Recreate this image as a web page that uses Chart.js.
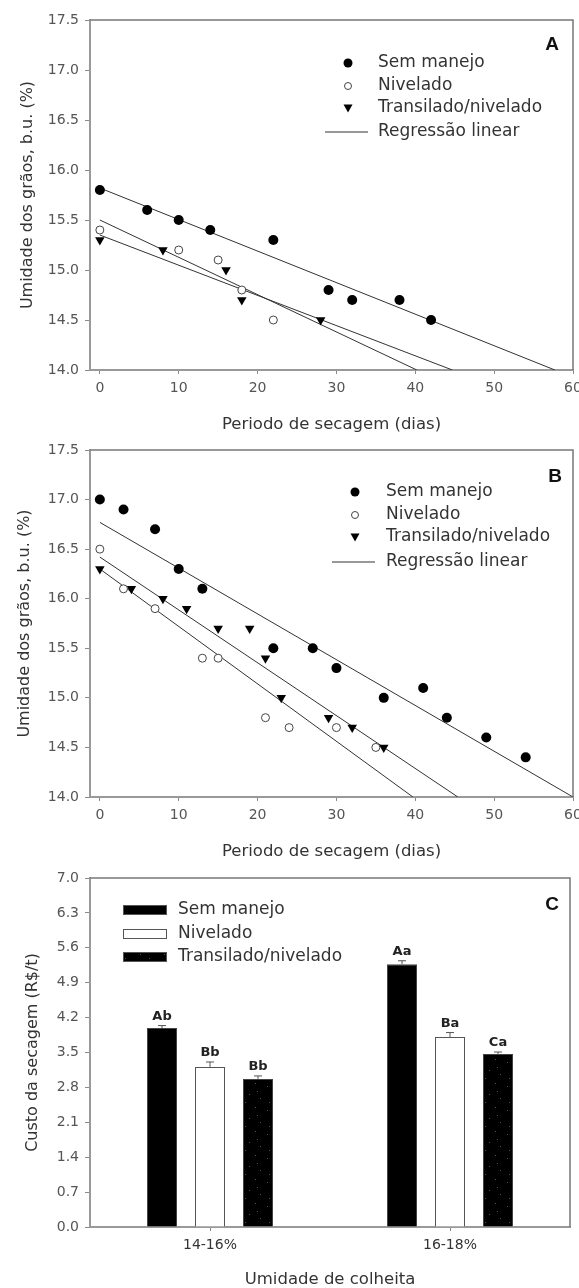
<!DOCTYPE html>
<html>
<head>
<meta charset="utf-8">
<script src="https://cdn.jsdelivr.net/npm/chart.js@4"></script>
<style>
  body { margin: 0; background: #fff; }
  canvas { display: block; }
</style>
</head>
<body>
<canvas id="chartA" width="579" height="440"></canvas>
<canvas id="chartB" width="579" height="425"></canvas>
<canvas id="chartC" width="579" height="423"></canvas>
<script>
// ---- dados painel A ----
const diasA_sem = [0, 6, 10, 14, 22, 29, 32, 38, 42];
const umidA_sem = [15.8, 15.6, 15.5, 15.4, 15.3, 14.8, 14.7, 14.7, 14.5];
const diasA_niv = [0, 10, 15, 18, 22];
const umidA_niv = [15.4, 15.2, 15.1, 14.8, 14.5];
const diasA_tra = [0, 8, 16, 18, 28];
const umidA_tra = [15.3, 15.2, 15.0, 14.7, 14.5];
// retas de regressão (extremos)
const regA_sem_x = [0, 57.7], regA_sem_y = [15.82, 14.0];
const regA_niv_x = [0, 40.2], regA_niv_y = [15.5, 14.0];
const regA_tra_x = [0, 44.7], regA_tra_y = [15.35, 14.0];

// ---- dados painel B ----
const diasB_sem = [0, 3, 7, 10, 13, 22, 27, 30, 36, 41, 44, 49, 54];
const umidB_sem = [17.0, 16.9, 16.7, 16.3, 16.1, 15.5, 15.5, 15.3, 15.0, 15.1, 14.8, 14.6, 14.4];
const diasB_niv = [0, 3, 7, 13, 15, 21, 24, 30, 35];
const umidB_niv = [16.5, 16.1, 15.9, 15.4, 15.4, 14.8, 14.7, 14.7, 14.5];
const diasB_tra = [0, 4, 8, 11, 15, 19, 21, 23, 29, 32, 36];
const umidB_tra = [16.3, 16.1, 16.0, 15.9, 15.7, 15.7, 15.4, 15.0, 14.8, 14.7, 14.5];
const regB_sem_x = [0, 60], regB_sem_y = [16.77, 14.0];
const regB_niv_x = [0, 39.7], regB_niv_y = [16.3, 14.0];
const regB_tra_x = [0, 45.4], regB_tra_y = [16.42, 14.0];

// ---- dados painel C ----
const classesUmid = ['14-16%', '16-18%'];
const custoSem = [3.99, 5.27];
const custoNiv = [3.21, 3.81];
const custoTra = [2.97, 3.47];
const erroSem = [0.05, 0.07];
const erroNiv = [0.1, 0.09];
const erroTra = [0.06, 0.04];
const letrasSem = ['Ab', 'Aa'];
const letrasNiv = ['Bb', 'Ba'];
const letrasTra = ['Bb', 'Ca'];
const ticksC = [0, 0.7, 1.4, 2.1, 2.8, 3.5, 4.2, 4.9, 5.6, 6.3, 7.0];

const nomes = ['Sem manejo', 'Nivelado', 'Transilado/nivelado', 'Regressão linear'];

Chart.defaults.font.family = '"DejaVu Sans", "Liberation Sans", Arial, sans-serif';
Chart.defaults.color = '#555';

const pts = (xs, ys) => xs.map((x, i) => ({ x: x, y: ys[i] }));

// marcadores desenhados à mão para as legendas
function marker(ctx, tipo, x, y) {
    ctx.save();
    ctx.beginPath();
    if (tipo === 'cheio') {
        ctx.arc(x, y, 4.5, 0, Math.PI * 2);
        ctx.fillStyle = '#000'; ctx.fill();
    } else if (tipo === 'aberto') {
        ctx.arc(x, y, 3.5, 0, Math.PI * 2);
        ctx.fillStyle = '#fff'; ctx.fill();
        ctx.strokeStyle = '#444'; ctx.lineWidth = 1; ctx.stroke();
    } else {
        ctx.moveTo(x - 4.5, y - 3.5); ctx.lineTo(x + 4.5, y - 3.5); ctx.lineTo(x, y + 4.5);
        ctx.closePath(); ctx.fillStyle = '#000'; ctx.fill();
    }
    ctx.restore();
}

function framePlugin(letra, lx, ly) {
    return {
        id: 'frame' + letra,
        afterDraw(chart) {
            const { ctx, chartArea: a } = chart;
            ctx.save();
            ctx.strokeStyle = '#777';
            ctx.lineWidth = 1.5;
            ctx.beginPath();
            ctx.moveTo(a.left, a.top); ctx.lineTo(a.right, a.top); ctx.lineTo(a.right, a.bottom);
            ctx.stroke();
            ctx.fillStyle = '#111';
            ctx.font = 'bold 19px "Liberation Sans", Arial, sans-serif';
            ctx.textAlign = 'center';
            ctx.textBaseline = 'middle';
            ctx.fillText(letra, lx, ly);
            ctx.restore();
        }
    };
}

function legendaDispersao(id, mx, tx, linhas, l0, l1) {
    return {
        id: id,
        afterDraw(chart) {
            const ctx = chart.ctx;
            ctx.save();
            ctx.font = '17px "DejaVu Sans", sans-serif';
            ctx.fillStyle = '#333';
            ctx.textBaseline = 'middle';
            ctx.textAlign = 'left';
            const tipos = ['cheio', 'aberto', 'tri'];
            for (let i = 0; i < 3; i++) {
                marker(ctx, tipos[i], mx, linhas[i]);
                ctx.fillText(nomes[i], tx, linhas[i]);
            }
            ctx.strokeStyle = '#333'; ctx.lineWidth = 1;
            ctx.beginPath(); ctx.moveTo(l0, linhas[3]); ctx.lineTo(l1, linhas[3]); ctx.stroke();
            ctx.fillText(nomes[3], tx, linhas[3]);
            ctx.restore();
        }
    };
}

function scatterDatasets(d) {
    const linha = (xs, ys) => ({
        type: 'line', data: pts(xs, ys), borderColor: '#333', borderWidth: 1,
        pointRadius: 0, fill: false, showLine: true
    });
    return [
        { label: nomes[0], data: pts(d.sx, d.sy), pointStyle: 'circle', pointRadius: 5,
          backgroundColor: '#000', borderColor: '#000', borderWidth: 0 },
        { label: nomes[1], data: pts(d.nx, d.ny), pointStyle: 'circle', pointRadius: 4,
          backgroundColor: '#fff', borderColor: '#444', borderWidth: 1 },
        { label: nomes[2], data: pts(d.tx, d.ty), pointStyle: 'triangle', pointRotation: 180, pointRadius: 5.5,
          backgroundColor: '#000', borderColor: '#000', borderWidth: 0 },
        linha(d.r1x, d.r1y),
        linha(d.r2x, d.r2y),
        linha(d.r3x, d.r3y)
    ];
}

function scatterOptions(padTop, axisH, titlePadBottom, yTitlePad) {
    return {
        responsive: false,
        animation: false,
        layout: { padding: { top: padTop, right: 6, left: 0, bottom: 0 } },
        plugins: { legend: { display: false }, tooltip: { enabled: false } },
        scales: {
            x: {
                type: 'linear', min: -1.25, max: 60,
                ticks: { stepSize: 10, includeBounds: false, padding: 6, color: '#555', font: { size: 14 } },
                grid: { drawOnChartArea: false, drawTicks: true, tickLength: 4, tickColor: '#888' },
                border: { display: true, color: '#999', width: 2 },
                title: { display: true, text: 'Periodo de secagem (dias)', color: '#333',
                         font: { size: 16.5 }, padding: { top: 0, bottom: titlePadBottom } },
                afterFit: s => { s.height = axisH; s.paddingLeft = 0; s.paddingRight = 0; }
            },
            y: {
                min: 14, max: 17.5,
                ticks: { stepSize: 0.5, padding: 6, color: '#555', font: { size: 14 },
                         callback: v => v.toFixed(1) },
                grid: { drawOnChartArea: false, drawTicks: true, tickLength: 5, tickColor: '#888' },
                border: { display: true, color: '#999', width: 2 },
                title: { display: true, text: 'Umidade dos grãos, b.u. (%)', color: '#333',
                         font: { size: 16 }, padding: { top: yTitlePad, bottom: 0 } },
                afterFit: s => { s.width = 90; s.paddingTop = 0; s.paddingBottom = 0; }
            }
        }
    };
}

// Painel A
new Chart(document.getElementById('chartA'), {
    type: 'scatter',
    data: { datasets: scatterDatasets({
        sx: diasA_sem, sy: umidA_sem, nx: diasA_niv, ny: umidA_niv, tx: diasA_tra, ty: umidA_tra,
        r1x: regA_sem_x, r1y: regA_sem_y, r2x: regA_niv_x, r2y: regA_niv_y, r3x: regA_tra_x, r3y: regA_tra_y
    }) },
    options: scatterOptions(20, 70, 5.4, 18),
    plugins: [framePlugin('A', 552, 45), legendaDispersao('legA', 348, 378, [63, 86, 108, 132], 325, 368)]
});

// Painel B
new Chart(document.getElementById('chartB'), {
    type: 'scatter',
    data: { datasets: scatterDatasets({
        sx: diasB_sem, sy: umidB_sem, nx: diasB_niv, ny: umidB_niv, tx: diasB_tra, ty: umidB_tra,
        r1x: regB_sem_x, r1y: regB_sem_y, r2x: regB_niv_x, r2y: regB_niv_y, r3x: regB_tra_x, r3y: regB_tra_y
    }) },
    options: scatterOptions(10, 68, 3.4, 15),
    plugins: [framePlugin('B', 555, 37), legendaDispersao('legB', 355, 386, [52, 75, 97, 122], 332, 375)]
});

// Painel C
function padraoPontilhado() {
    const c = document.createElement('canvas');
    c.width = 24; c.height = 24;
    const g = c.getContext('2d');
    g.fillStyle = '#000'; g.fillRect(0, 0, 24, 24);
    g.fillStyle = '#555';
    [[3, 5], [15, 2], [9, 13], [20, 17], [5, 21], [17, 10]].forEach(p => g.fillRect(p[0], p[1], 1, 1));
    return g.createPattern(c, 'repeat');
}
const pontilhado = padraoPontilhado();

const barExtras = {
    id: 'barExtras',
    afterDatasetsDraw(chart) {
        const { ctx, scales: { y } } = chart;
        const erros = [erroSem, erroNiv, erroTra];
        const valores = [custoSem, custoNiv, custoTra];
        const letras = [letrasSem, letrasNiv, letrasTra];
        ctx.save();
        for (let i = 0; i < 3; i++) {
            chart.getDatasetMeta(i).data.forEach((bar, j) => {
                const y0 = y.getPixelForValue(valores[i][j]);
                const y1 = y.getPixelForValue(valores[i][j] + erros[i][j]);
                ctx.strokeStyle = '#555'; ctx.lineWidth = 1;
                ctx.beginPath();
                ctx.moveTo(bar.x, y0); ctx.lineTo(bar.x, y1);
                ctx.moveTo(bar.x - 4, y1); ctx.lineTo(bar.x + 4, y1);
                ctx.stroke();
                ctx.fillStyle = '#222';
                ctx.font = 'bold 13px "DejaVu Sans", sans-serif';
                ctx.textAlign = 'center';
                ctx.textBaseline = 'alphabetic';
                ctx.fillText(letras[i][j], bar.x, y1 - 6);
            });
        }
        // legenda
        const caixas = ['#000', '#fff', pontilhado];
        const linhas = [45, 69, 92];
        ctx.font = '17px "DejaVu Sans", sans-serif';
        ctx.textBaseline = 'middle';
        ctx.textAlign = 'left';
        for (let i = 0; i < 3; i++) {
            ctx.fillStyle = caixas[i];
            ctx.fillRect(123, linhas[i] - 5, 44, 10);
            ctx.strokeStyle = '#555';
            ctx.strokeRect(123.5, linhas[i] - 4.5, 43, 9);
            ctx.fillStyle = '#333';
            ctx.fillText(nomes[i], 178, linhas[i]);
        }
        ctx.restore();
    }
};

new Chart(document.getElementById('chartC'), {
    type: 'bar',
    data: {
        labels: classesUmid,
        datasets: [
            { label: nomes[0], data: custoSem, backgroundColor: '#000', borderColor: '#444', borderWidth: 1 },
            { label: nomes[1], data: custoNiv, backgroundColor: '#fff', borderColor: '#555', borderWidth: 1 },
            { label: nomes[2], data: custoTra, backgroundColor: pontilhado, borderColor: '#444', borderWidth: 1 }
        ]
    },
    options: {
        responsive: false,
        animation: false,
        layout: { padding: { top: 13, right: 9, left: 0, bottom: 0 } },
        plugins: { legend: { display: false }, tooltip: { enabled: false } },
        datasets: { bar: { categoryPercentage: 0.6, barPercentage: 0.625 } },
        scales: {
            x: {
                ticks: { padding: 6, color: '#333', font: { size: 14 } },
                grid: { drawOnChartArea: false, offset: false, tickLength: 4, tickColor: '#888' },
                border: { display: true, color: '#999', width: 2 },
                title: { display: true, text: 'Umidade de colheita', color: '#333',
                         font: { size: 16.5, lineHeight: 1 }, padding: { top: 0, bottom: 0 } },
                afterFit: s => { s.height = 61; s.paddingLeft = 0; s.paddingRight = 0; }
            },
            y: {
                min: 0, max: 7,
                afterBuildTicks: s => { s.ticks = ticksC.map(v => ({ value: v })); },
                ticks: { padding: 6, color: '#555', font: { size: 14 }, callback: v => v.toFixed(1) },
                grid: { drawOnChartArea: false, tickLength: 5, tickColor: '#888' },
                border: { display: true, color: '#999', width: 2 },
                title: { display: true, text: 'Custo da secagem (R$/t)', color: '#333',
                         font: { size: 16 }, padding: { top: 23, bottom: 0 } },
                afterFit: s => { s.width = 90; s.paddingTop = 0; s.paddingBottom = 0; }
            }
        }
    },
    plugins: [framePlugin('C', 552, 40), barExtras]
});
</script>
</body>
</html>
